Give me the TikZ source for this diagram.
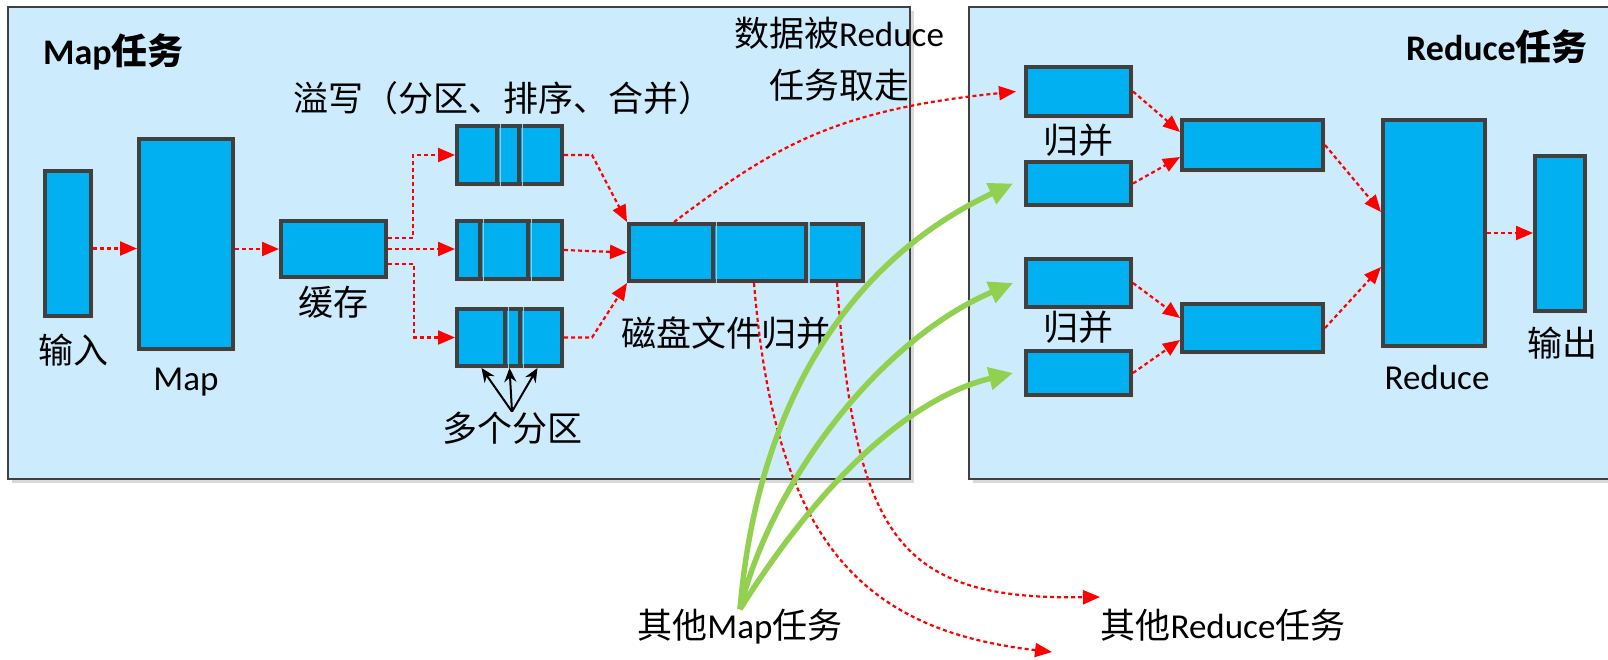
\documentclass[tikz,border=0pt]{standalone}
\usepackage{fontspec}
\setmainfont{Carlito}
\newfontfamily\cjk{Noto Sans CJK SC}
\usetikzlibrary{arrows.meta,shadows}
\definecolor{panelblue}{HTML}{CCEBFC}
\definecolor{blockblue}{HTML}{00B0F0}
\definecolor{edgegray}{HTML}{404040}
\definecolor{seamblue}{HTML}{8CCFEA}
\definecolor{mapgreen}{HTML}{92D050}
\newcommand{\zh}[1]{{\cjk #1}}

\begin{document}
\begin{tikzpicture}[x=1pt,y=-1pt,
    block/.style={draw=edgegray,line width=4pt,fill=blockblue,inner sep=0pt,
      drop shadow={shadow xshift=2.5pt,shadow yshift=-2.5pt,fill=black!12,opacity=1}},
    seam/.style={edgegray,line width=4pt},
    shine/.style={seamblue,line width=1.5pt},
    flow/.style={red,line width=2.2pt,dash pattern=on 4pt off 3pt,
      -{Triangle[length=17pt,width=14pt]}},
    feed/.style={mapgreen,line width=5.5pt,-{Triangle[length=24pt,width=22pt]}},
    pointer/.style={black,line width=2pt,-{Stealth[length=14pt,width=12pt]}},
    lbl/.style={font=\fontsize{35}{42}\selectfont,inner sep=0pt},
    title/.style={font=\fontsize{36}{42}\selectfont\bfseries,inner sep=0pt}]
    \useasboundingbox (0,0) rectangle (1608,659);

    %Panels
    \fill[black!15] (12,11) rectangle (914,483);
    \draw[edgegray,line width=1.5pt,fill=panelblue] (8,7) rectangle (910,479);
    \fill[black!15] (973,11) rectangle (1630,483);
    \draw[edgegray,line width=1.5pt,fill=panelblue] (969,7) rectangle (1625,479);
    \node[title,anchor=west] (maptitle) at (43,52) {Map\zh{任务}};
    \node[title,anchor=east] (redtitle) at (1588,47) {Reduce\zh{任务}};

    %Input and Map
    \node[block,minimum width=46pt,minimum height=145pt] (inbox) at (68,243.5) {};
    \node[lbl] (inlbl) at (73,350) {\zh{输入}};
    \node[block,minimum width=94pt,minimum height=210pt] (mapbox) at (186,244) {};
    \node[lbl] (maplbl) at (186,382) {Map};
    %Buffer
    \node[block,minimum width=105pt,minimum height=56pt] (buffer) at (333.5,249) {};
    \node[lbl] (buflbl) at (333,302) {\zh{缓存}};
    %Spills
    \node[lbl,anchor=west] (spilllbl) at (293,98) {\zh{溢写（分区、排序、合并）}};
    \node[block,minimum width=105pt,minimum height=58pt] (part1) at (509.5,155) {};
    \node[block,minimum width=105pt,minimum height=58pt] (part2) at (509.5,250) {};
    \node[block,minimum width=105pt,minimum height=57pt] (part3) at (509.5,337.5) {};
    \draw[seam] ([xshift=-12.5pt]part1.north) -- ([xshift=-12.5pt]part1.south);
    \draw[shine] ([xshift=-9pt]part1.north) -- ([xshift=-9pt]part1.south);
    \draw[seam] ([xshift=9.5pt]part1.north) -- ([xshift=9.5pt]part1.south);
    \draw[shine] ([xshift=13pt]part1.north) -- ([xshift=13pt]part1.south);
    \draw[seam] ([xshift=-29.5pt]part2.north) -- ([xshift=-29.5pt]part2.south);
    \draw[shine] ([xshift=-26pt]part2.north) -- ([xshift=-26pt]part2.south);
    \draw[seam] ([xshift=18.5pt]part2.north) -- ([xshift=18.5pt]part2.south);
    \draw[shine] ([xshift=22pt]part2.north) -- ([xshift=22pt]part2.south);
    \draw[seam] ([xshift=-4.5pt]part3.north) -- ([xshift=-4.5pt]part3.south);
    \draw[shine] ([xshift=-1pt]part3.north) -- ([xshift=-1pt]part3.south);
    \draw[seam] ([xshift=10.5pt]part3.north) -- ([xshift=10.5pt]part3.south);
    \draw[shine] ([xshift=14pt]part3.north) -- ([xshift=14pt]part3.south);
    \node[lbl] (partslbl) at (512,428) {\zh{多个分区}};
    %Merged file on disk
    \node[block,minimum width=234pt,minimum height=57pt] (disk) at (746,252.5) {};
    \draw[seam] ([xshift=-33pt]disk.north) -- ([xshift=-33pt]disk.south);
    \draw[shine] ([xshift=-29.5pt]disk.north) -- ([xshift=-29.5pt]disk.south);
    \draw[seam] ([xshift=60pt]disk.north) -- ([xshift=60pt]disk.south);
    \draw[shine] ([xshift=63pt]disk.north) -- ([xshift=63pt]disk.south);
    \node[lbl] (disklbl) at (726,333) {\zh{磁盘文件归并}};
    \node[lbl,align=center,font=\fontsize{35}{52}\selectfont] (fetchlbl) at (839,59)
      {\zh{数据被}Reduce\\\zh{任务取走}};

    %Reduce side
    \node[block,minimum width=105pt,minimum height=49pt] (m1) at (1078.5,91.5) {};
    \node[block,minimum width=105pt,minimum height=43pt] (m2) at (1078.5,183.5) {};
    \node[block,minimum width=105pt,minimum height=48pt] (m3) at (1078.5,283) {};
    \node[block,minimum width=105pt,minimum height=44pt] (m4) at (1078.5,373) {};
    \node[lbl] (merge1lbl) at (1078,140) {\zh{归并}};
    \node[lbl] (merge2lbl) at (1078,327) {\zh{归并}};
    \node[block,minimum width=141pt,minimum height=50pt] (s1) at (1252.5,145) {};
    \node[block,minimum width=141pt,minimum height=48pt] (s2) at (1252.5,328) {};
    \node[block,minimum width=102pt,minimum height=226pt] (reduce) at (1434,233) {};
    \node[lbl] (reducelbl) at (1437,377) {Reduce};
    \node[block,minimum width=50pt,minimum height=155pt] (outbox) at (1560,233.5) {};
    \node[lbl] (outlbl) at (1562,343) {\zh{输出}};

    %Other tasks
    \node[lbl] (othermap) at (740,627) {\zh{其他}Map\zh{任务}};
    \node[lbl] (otherred) at (1223,625) {\zh{其他}Reduce\zh{任务}};
    \coordinate (toother1) at (1100,597);
    \coordinate (toother2) at (1052,652);

    %Map flow
    \draw[flow] ([yshift=-5pt]inbox.east) -- ([yshift=-5pt]inbox.east -| mapbox.west);
    \draw[flow] ([yshift=-5pt]mapbox.east) -- ([yshift=-5pt]mapbox.east -| buffer.west);
    \draw[flow] ([yshift=11pt]buffer.east) -- ++(25,0) |- (part1.west);
    \draw[flow] (buffer.east) -- (buffer.east -| part2.west);
    \draw[flow] ([yshift=-15pt]buffer.east) -- ++(26,0) |- (part3.west);
    \draw[flow] (part1.east) -- ++(28,0) -- (disk.north west);
    \draw[flow] (part2.east) -- (disk.west);
    \draw[flow] (part3.east) -- ++(28,0) -- (disk.south west);
    \draw[pointer] (partslbl.north) -- ([xshift=-28pt]part3.south);
    \draw[pointer] (partslbl.north) -- (part3.south);
    \draw[pointer] (partslbl.north) -- ([xshift=28pt]part3.south);
    %Fetch by reducers
    \draw[flow] ([xshift=-72pt]disk.north) .. controls (770,150) and (830,110) .. ([xshift=-8pt]m1.west);
    \draw[flow] ([xshift=8pt]disk.south) .. controls (775,540) and (860,630) .. (toother2);
    \draw[flow] ([xshift=91pt]disk.south) .. controls (855,540) and (900,600) .. (toother1);
    \draw[feed] (othermap.north) .. controls (755,430) and (830,270) .. ([xshift=-11pt]m2.west);
    \draw[feed] (othermap.north) .. controls (772,480) and (880,340) .. ([xshift=-11pt]m3.west);
    \draw[feed] (othermap.north) .. controls (808,500) and (900,400) .. ([xshift=-11pt]m4.west);
    %Reduce flow
    \draw[flow] (m1.east) -- ([yshift=13pt]s1.west);
    \draw[flow] (m2.east) -- ([yshift=-12pt]s1.west);
    \draw[flow] (m3.east) -- ([yshift=10pt]s2.west);
    \draw[flow] (m4.east) -- ([yshift=-12pt]s2.west);
    \draw[flow] (s1.east) -- ([yshift=21pt]reduce.west);
    \draw[flow] (s2.east) -- ([yshift=-34pt]reduce.west);
    \draw[flow] (reduce.east) -- (reduce.east -| outbox.west);
\end{tikzpicture}
\end{document}
